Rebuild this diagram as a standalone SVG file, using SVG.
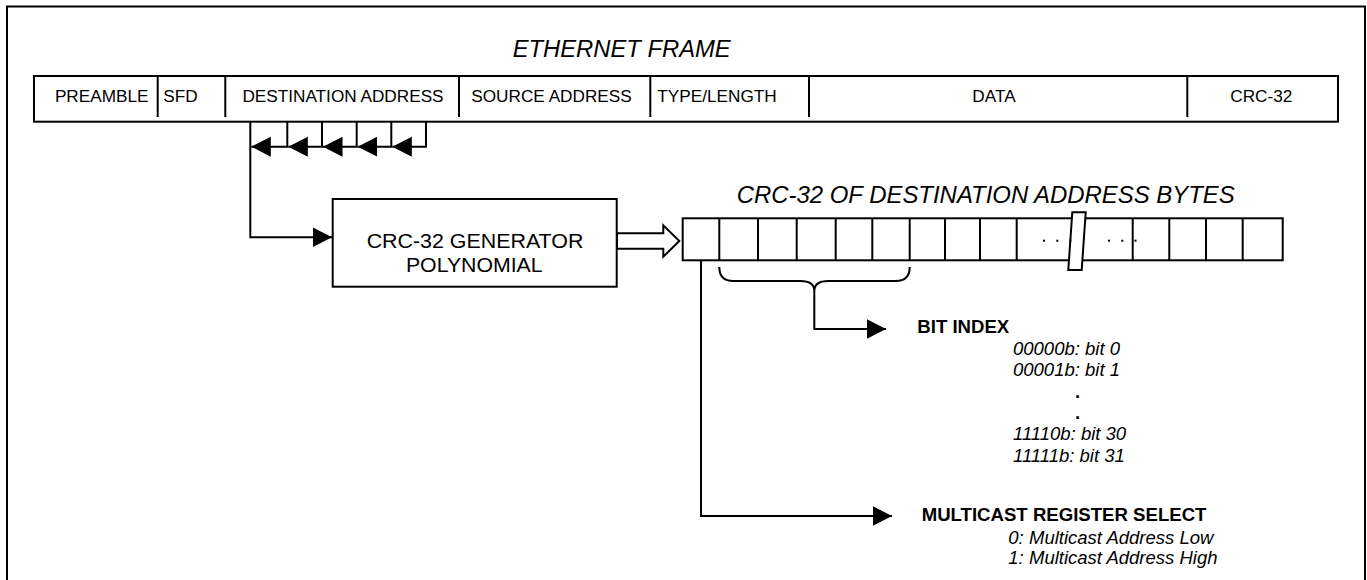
<svg xmlns="http://www.w3.org/2000/svg" width="1367" height="580" viewBox="0 0 1367 580">
<style>
.ln{stroke:#000;stroke-width:2;fill:none}
.bx{fill:#fff;stroke:#000;stroke-width:2}
.t{font-family:"Liberation Sans",Arial,sans-serif;fill:#000}
.f{font-size:17.2px}
.ti{font-size:23px;font-style:italic}
.g{font-size:20.5px}
.b{font-size:18.6px;font-weight:bold}
.i{font-size:18.5px;font-style:italic}
</style>
<defs>
<marker id="ah" markerUnits="userSpaceOnUse" markerWidth="20" markerHeight="21" refX="19.5" refY="10" orient="auto">
<path d="M0,0 L19.5,10 L0,20 z" fill="#000"/>
</marker>
</defs>
<rect x="0" y="0" width="1367" height="580" fill="#fff"/>
<rect class="ln" x="7" y="6.5" width="1358" height="600"/>

<g id="ethernet-frame">
<text class="t ti" x="621.7" y="57.3" text-anchor="middle" textLength="218" lengthAdjust="spacingAndGlyphs">ETHERNET FRAME</text>
<rect class="bx" x="34" y="76" width="1304" height="45.7"/>
<path class="ln" d="M157.7,76V117 M225.3,76V117 M459,76V117 M650.3,76V117 M809,76V117 M1187.3,76V117"/>
<text class="t f" x="101.7" y="102.3" text-anchor="middle">PREAMBLE</text>
<text class="t f" x="163.3" y="102.3">SFD</text>
<text class="t f" x="343" y="102.3" text-anchor="middle">DESTINATION ADDRESS</text>
<text class="t f" x="551.5" y="102.3" text-anchor="middle">SOURCE ADDRESS</text>
<text class="t f" x="657.3" y="102.3">TYPE/LENGTH</text>
<text class="t f" x="994" y="102.3" text-anchor="middle">DATA</text>
<text class="t f" x="1261.3" y="102.3" text-anchor="middle">CRC-32</text>
</g>

<g id="crc-generator">
<rect class="bx" x="332.7" y="199" width="284" height="87.7"/>
<text class="t g" x="475" y="247.7" text-anchor="middle" textLength="216.7" lengthAdjust="spacingAndGlyphs">CRC-32 GENERATOR</text>
<text class="t g" x="474.3" y="271.7" text-anchor="middle" textLength="136.7" lengthAdjust="spacingAndGlyphs">POLYNOMIAL</text>
</g>

<g id="crc-register">
<text class="t ti" x="736.7" y="203.3" textLength="498" lengthAdjust="spacingAndGlyphs">CRC-32 OF DESTINATION ADDRESS BYTES</text>
<rect class="bx" x="682.7" y="218.3" width="600" height="42"/>
<path class="ln" d="M719.3,218.3V260.3 M758,218.3V260.3 M796.7,218.3V260.3 M835.7,218.3V260.3 M872.3,218.3V260.3 M909.7,218.3V260.3 M945,218.3V260.3 M980,218.3V260.3 M1016.7,218.3V260.3 M1132.7,218.3V260.3 M1169.3,218.3V260.3 M1206,218.3V260.3 M1242.7,218.3V260.3"/>
<polygon class="bx" points="1072.3,212.3 1085.7,212.3 1081.7,270 1068.3,270" stroke-width="1.5"/>
<g fill="#000">
<rect x="1043" y="239.7" width="2" height="2"/>
<rect x="1056.3" y="239.7" width="2" height="2"/>
<rect x="1069.3" y="239.7" width="2" height="2"/>
<rect x="1108" y="239.7" width="2" height="2"/>
<rect x="1121.3" y="239.7" width="2" height="2"/>
<rect x="1134.5" y="239.7" width="2" height="2"/>
</g>
<path class="ln" d="M719.3,267 Q719.3,281 733.3,281 H800.3 Q814.3,281 814.3,291 Q814.3,281 828.3,281 H895.7 Q909.7,281 909.7,267"/>
</g>

<g id="bit-index">
<text class="t b" x="917.3" y="333.3">BIT INDEX</text>
<text class="t i" x="1013" y="355">00000b: bit 0</text>
<text class="t i" x="1013" y="376">00001b: bit 1</text>
<text class="t b" x="1077.7" y="398" text-anchor="middle" font-size="14">.</text>
<text class="t b" x="1077.7" y="418.5" text-anchor="middle" font-size="14">.</text>
<text class="t i" x="1013" y="440">11110b: bit 30</text>
<text class="t i" x="1013" y="462">11111b: bit 31</text>
</g>

<g id="multicast-select">
<text class="t b" x="921.7" y="520.7">MULTICAST REGISTER SELECT</text>
<text class="t i" x="1008.3" y="544">0:</text>
<text class="t i" x="1029" y="544">Multicast Address Low</text>
<text class="t i" x="1008.3" y="564">1:</text>
<text class="t i" x="1029" y="564">Multicast Address High</text>
</g>

<g id="connectors">
<path class="ln" d="M426,121.7V146.7H392.3" marker-end="url(#ah)"/>
<path class="ln" d="M391.3,121.7V146.7H357.7" marker-end="url(#ah)"/>
<path class="ln" d="M356.7,121.7V146.7H323" marker-end="url(#ah)"/>
<path class="ln" d="M322,121.7V146.7H288.3" marker-end="url(#ah)"/>
<path class="ln" d="M287.3,121.7V146.7H251.3" marker-end="url(#ah)"/>
<path class="ln" d="M250.3,121.7V237.3H332" marker-end="url(#ah)"/>
<polygon class="bx" points="617,233.3 663.3,233.3 663.3,225.3 679.3,241 663.3,256.7 663.3,248.7 617,248.7"/>
<path class="ln" d="M814.3,291V329H886" marker-end="url(#ah)"/>
<path class="ln" d="M701,260.3V516H892" marker-end="url(#ah)"/>
</g>
</svg>
